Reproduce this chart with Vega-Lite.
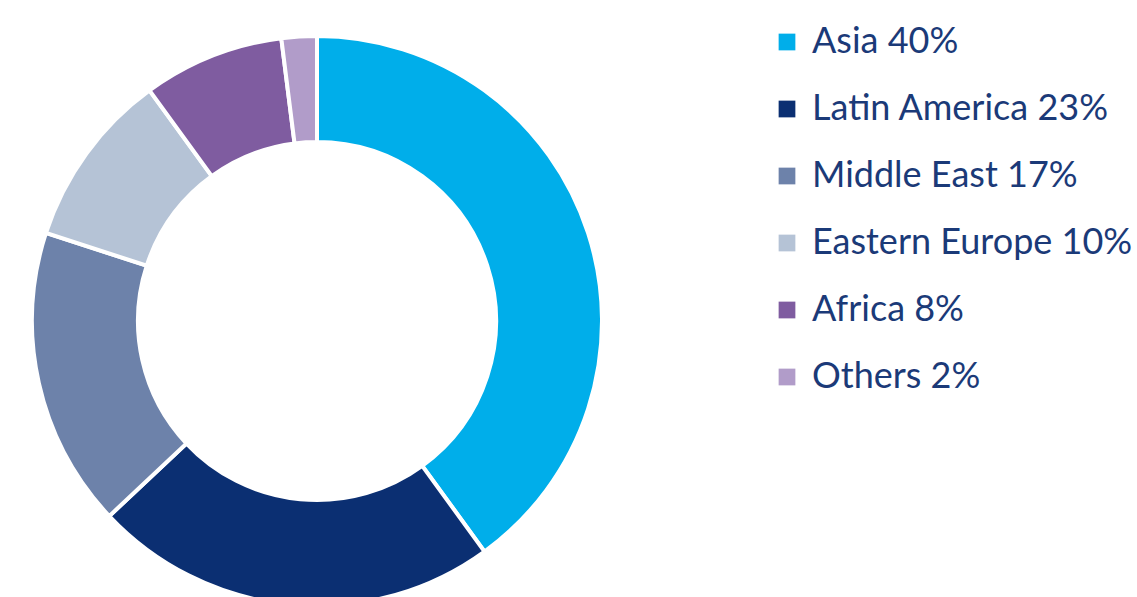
{
  "$schema": "https://vega.github.io/schema/vega-lite/v6.json",
  "autosize": "none",
  "padding": {"left": 0, "top": 0, "right": 503, "bottom": 0},
  "width": 634,
  "height": 642,
  "background": "white",
  "data": {
    "values": [
      {"label": "Asia 40%", "share": 40, "rank": 1},
      {"label": "Latin America 23%", "share": 23, "rank": 2},
      {"label": "Middle East 17%", "share": 17, "rank": 3},
      {"label": "Eastern Europe 10%", "share": 10, "rank": 4},
      {"label": "Africa 8%", "share": 8, "rank": 5},
      {"label": "Others 2%", "share": 2, "rank": 6}
    ]
  },
  "mark": {"type": "arc", "radius": 285, "radius2": 179, "stroke": "white", "strokeWidth": 4},
  "encoding": {
    "theta": {"field": "share", "type": "quantitative", "stack": true},
    "order": {"field": "rank", "type": "quantitative"},
    "color": {
      "field": "label",
      "type": "nominal",
      "sort": ["Asia 40%", "Latin America 23%", "Middle East 17%", "Eastern Europe 10%", "Africa 8%", "Others 2%"],
      "scale": {
        "domain": ["Asia 40%", "Latin America 23%", "Middle East 17%", "Eastern Europe 10%", "Africa 8%", "Others 2%"],
        "range": ["#00AEEA", "#0B2F72", "#6D82AA", "#B5C3D6", "#7F5CA0", "#B19CC9"]
      },
      "legend": {
        "title": null,
        "orient": "none",
        "legendX": 769,
        "legendY": 24,
        "symbolType": "square",
        "symbolSize": 280,
        "symbolStrokeWidth": 0,
        "labelFont": "Lato",
        "labelFontSize": 36,
        "labelColor": "#1B3A78",
        "labelOffset": 7,
        "labelLimit": 450,
        "rowPadding": 31
      }
    }
  },
  "config": {"view": {"stroke": null}}
}
